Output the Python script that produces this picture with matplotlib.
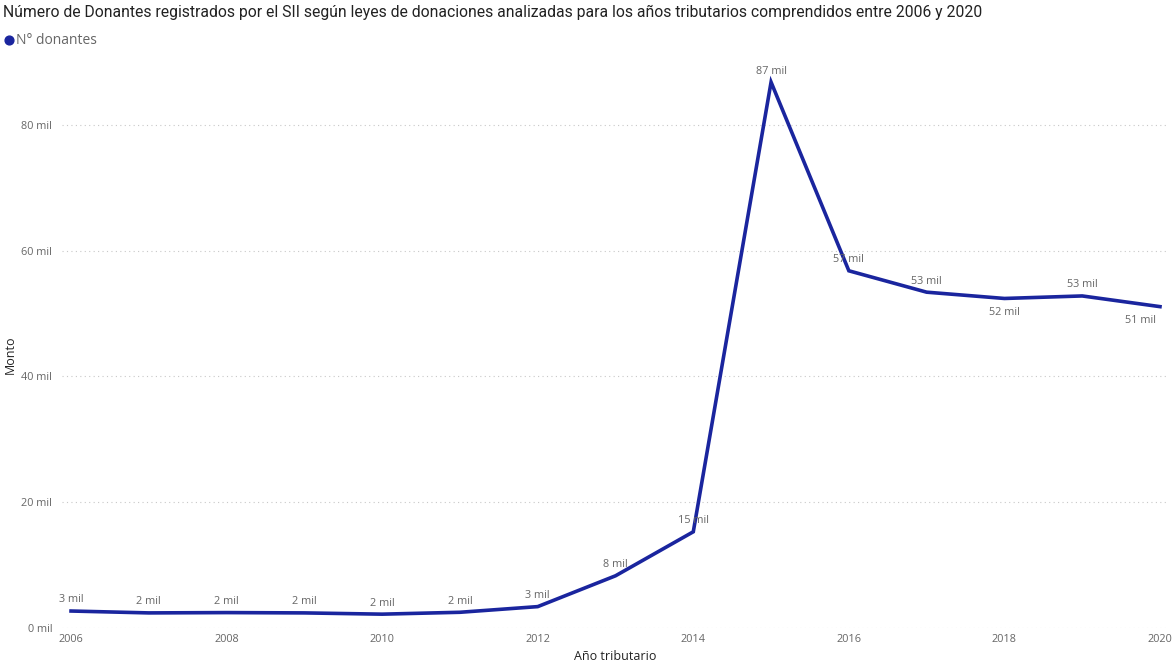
import matplotlib
matplotlib.use("Agg")
import matplotlib.pyplot as plt

years = [2006, 2007, 2008, 2009, 2010, 2011, 2012, 2013, 2014, 2015, 2016, 2017, 2018, 2019, 2020]
donantes_mil = [2.7, 2.4, 2.45, 2.4, 2.2, 2.5, 3.4, 8.3, 15.3, 86.8, 56.8, 53.4, 52.4, 52.8, 51.1]
label_below = [2018, 2020]
y_ticks = [0, 20, 40, 60, 80]
x_ticks = [2006, 2008, 2010, 2012, 2014, 2016, 2018, 2020]

title = "Número de Donantes registrados por el SII según leyes de donaciones analizadas para los años tributarios comprendidos entre 2006 y 2020"
legend_label = "N° donantes"
line_color = "#1a259e"
text_gray = "#666666"

plt.rcParams["font.family"] = ["Open Sans", "DejaVu Sans"]

fig = plt.figure(figsize=(11.73, 6.64), dpi=100)
ax = fig.add_axes([62 / 1173, 1 - 628 / 664, (1168 - 62) / 1173, (628 - 62) / 664])

ax.plot(years, donantes_mil, color=line_color, linewidth=2.6, solid_joinstyle="miter")

for x, v in zip(years, donantes_mil):
    txt = f"{round(v):.0f} mil"
    dx = -14 if x == years[-1] else 0
    if x in label_below:
        ax.annotate(txt, (x, v), xytext=(dx, -6), textcoords="offset points",
                    ha="center", va="top", fontsize=7.8, color=text_gray)
    else:
        ax.annotate(txt, (x, v), xytext=(dx, 4), textcoords="offset points",
                    ha="center", va="bottom", fontsize=7.8, color=text_gray)

ax.set_xlim(2005.884, 2020.103)
ax.set_ylim(0, 90)
ax.set_yticks(y_ticks)
ax.set_yticklabels([f"{t} mil" for t in y_ticks])
ax.set_xticks(x_ticks)
ax.set_xticklabels([str(t) for t in x_ticks])
ax.tick_params(axis="both", length=0, labelsize=7.8, labelcolor=text_gray)
ax.tick_params(axis="y", pad=7)
ax.tick_params(axis="x", pad=4)

for t in y_ticks:
    ax.axhline(t, color="#c8c8c8", linewidth=0.8, linestyle=(0, (1, 3)), zorder=0)

for s in ax.spines.values():
    s.set_visible(False)

ax.set_xlabel("Año tributario", fontsize=9, color="#222222", labelpad=4)
fig.text(10 / 1173, 1 - 355 / 664, "Monto", rotation=90, ha="center", va="center",
         fontsize=9, color="#222222")

fig.text(3 / 1173, 1 - 12 / 664, title, ha="left", va="center", fontsize=11.3, color="#222222",
         family=["Roboto", "DejaVu Sans"])
fig.text(16 / 1173, 1 - 40 / 664, legend_label, ha="left", va="center", fontsize=10, color="#666666")
legend_ax = fig.add_axes([0, 0, 1, 1], facecolor="none")
legend_ax.set_xlim(0, 1173)
legend_ax.set_ylim(664, 0)
legend_ax.axis("off")
legend_ax.scatter([9], [40], s=40, color=line_color)

fig.savefig("out.png", dpi=100)
